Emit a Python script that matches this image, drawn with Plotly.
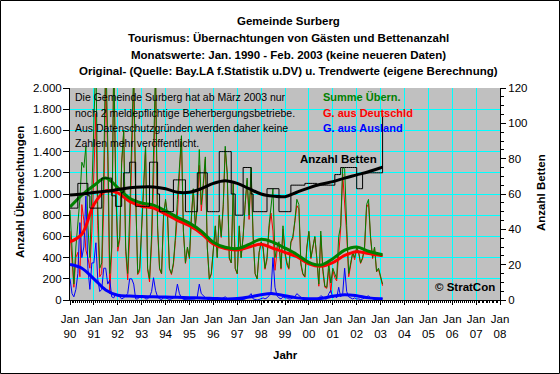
import plotly.graph_objects as go
import pandas as pd

# ---------------- data ----------------
months = pd.date_range("1990-01-01", periods=158, freq="MS")

summe = [
    850, 400, 150, 500, 700, 950, 1300, 1250, 1450, 700, 400, 1000,      # 1990
    1500, 2300, 900, 300, 350, 1200, 2400, 1500, 250, 500, 2300, 1100,   # 1991
    500, 600, 1300, 1600, 500, 250, 800, 1500, 2200, 1000, 250, 300,     # 1992
    700, 1100, 1450, 300, 200, 600, 1300, 2200, 700, 300, 250, 800,      # 1993
    950, 800, 300, 250, 350, 600, 950, 1250, 1550, 650, 350, 500,        # 1994
    400, 800, 1050, 700, 900, 1420, 900, 1100, 1350, 500, 200, 250,      # 1995
    500, 700, 400, 800, 600, 900, 1450, 1200, 400, 350, 1100, 300,       # 1996
    250, 700, 400, 600, 900, 1150, 800, 1250, 600, 250, 200, 450,        # 1997
    550, 500, 300, 400, 700, 900, 1050, 400, 500, 550, 300, 700,         # 1998
    450, 350, 300, 550, 600, 750, 950, 900, 350, 250, 220, 500,          # 1999
    650, 400, 500, 600, 400, 150, 650, 300, 130, 120, 350, 160,          # 2000
    300, 250, 200, 600, 700, 1250, 1240, 700, 250, 350, 450, 400,        # 2001
    500, 450, 350, 400, 500, 900, 950, 600, 400, 500, 270, 300,          # 2002
    220, 150,                                                            # 2003
]
deutsch = [
    650, 340, 120, 400, 450, 220, 900, 750, 470, 400, 300, 650,
    1150, 1760, 700, 220, 250, 900, 2100, 1350, 60, 470, 2280, 1040,
    460, 570, 1290, 1580, 460, 190, 600, 1300, 2050, 990, 240, 270,
    680, 1070, 1440, 290, 170, 520, 1090, 2110, 670, 290, 245, 780,
    930, 790, 295, 240, 330, 560, 800, 1190, 1530, 645, 345, 490,
    390, 790, 1045, 690, 870, 1270, 840, 1060, 1330, 495, 195, 240,
    495, 695, 400, 795, 590, 880, 1420, 1185, 390, 350, 1100, 295,
    245, 695, 400, 595, 890, 1130, 760, 1190, 590, 245, 200, 445,
    540, 480, 290, 380, 660, 820, 650, 280, 460, 530, 290, 670,
    430, 330, 290, 540, 580, 720, 890, 860, 330, 240, 215, 490,
    640, 390, 495, 595, 390, 130, 610, 270, 120, 110, 290, 70,
    280, 210, 180, 480, 670, 1190, 940, 620, 220, 330, 440, 380,
    490, 440, 345, 390, 480, 870, 910, 580, 390, 495, 265, 290,
    210, 135,
]
ausland = [
    200, 60, 30, 100, 250, 730, 400, 500, 980, 300, 100, 350,
    350, 540, 200, 80, 100, 300, 300, 150, 190, 30, 20, 60,
    40, 30, 10, 20, 40, 60, 200, 200, 150, 10, 10, 30,
    20, 30, 10, 10, 30, 80, 210, 90, 30, 10, 5, 20,
    20, 10, 5, 10, 20, 40, 150, 60, 20, 5, 5, 10,
    10, 10, 5, 10, 30, 150, 60, 40, 20, 5, 5, 10,
    5, 5, 0, 5, 10, 20, 30, 15, 10, 0, 0, 5,
    5, 5, 0, 5, 10, 20, 40, 60, 10, 5, 0, 5,
    10, 20, 10, 20, 40, 80, 400, 120, 40, 20, 10, 30,
    20, 20, 10, 10, 20, 30, 60, 40, 20, 10, 5, 10,
    10, 10, 5, 5, 10, 20, 40, 30, 10, 10, 60, 90,
    20, 40, 20, 120, 30, 60, 300, 80, 30, 20, 10, 20,
    10, 10, 5, 10, 20, 30, 40, 20, 10, 5, 5, 10,
    10, 15,
]
betten = [
    52, 52, 52, 52, 66, 66, 66, 66, 66, 59, 52, 52,
    52, 52, 52, 52, 69, 69, 69, 69, 69, 59, 59, 53,
    53, 53, 61, 72, 72, 72, 78, 78, 78, 53, 53, 53,
    53, 53, 53, 53, 78, 78, 78, 78, 60, 50, 50, 50,
    50, 50, 50, 50, 68, 68, 68, 68, 68, 68, 50, 50,
    50, 50, 50, 50, 72, 72, 72, 72, 72, 50, 50, 50,
    50, 50, 50, 84, 84, 84, 84, 84, 84, 60, 60, 48,
    48, 48, 48, 75, 75, 75, 75, 60, 50, 50, 50, 50,
    50, 50, 50, 63, 63, 63, 63, 63, 63, 50, 50, 50,
    50, 50, 50, 65, 65, 65, 65, 65, 65, 65, 66, 66,
    66, 66, 66, 66, 65, 65, 65, 65, 65, 65, 65, 65,
    65, 71, 71, 71, 75, 75, 75, 75, 75, 75, 75, 75,
    63, 63, 63, 72, 72, 72, 72, 72, 72, 72, 72, 72,
    72, 106,
]

trend_dates = [
    "1990-01-01", "1990-07-01", "1991-01-01", "1991-07-01", "1992-01-01", "1992-07-01",
    "1993-01-01", "1993-07-01", "1994-01-01", "1994-07-01", "1995-01-01", "1995-07-01",
    "1996-01-01", "1996-07-01", "1997-01-01", "1997-07-01", "1998-01-01", "1998-07-01",
    "1999-01-01", "1999-07-01", "2000-01-01", "2000-07-01", "2001-01-01", "2001-07-01",
    "2002-01-01", "2002-07-01", "2003-01-01", "2003-02-01",
]
summe_trend = [877, 990, 1080, 1150, 1060, 960, 915, 895, 840, 780, 725, 650,
               545, 497, 485, 525, 572, 545, 490, 430, 355, 330, 390, 470,
               500, 460, 432, 430]
deutsch_trend = [548, 620, 900, 1030, 1010, 930, 885, 868, 810, 752, 700, 628,
                 528, 485, 472, 500, 525, 488, 450, 408, 342, 318, 352, 420,
                 455, 438, 420, 420]
ausland_trend = [335, 300, 200, 95, 45, 37, 33, 30, 28, 25, 22, 20,
                 15, 10, 13, 28, 50, 60, 40, 20, 12, 15, 35, 50,
                 40, 20, 12, 12]
betten_trend = [59.4, 60.0, 60.8, 61.5, 62.5, 63.5, 64.0, 64.0, 63.0, 61.0, 61.0, 63.0,
                66.0, 67.5, 66.0, 63.0, 60.0, 58.8, 58.5, 61.0, 63.5, 65.5, 67.0, 69.0,
                70.8, 72.6, 74.8, 75.2]

year_ticks = pd.date_range("1990-01-01", "2008-01-01", freq="YS")
tick_text = ["Jan<br>" + d.strftime("%y") for d in year_ticks]

GREEN, RED, BLUE, BLACK = "#008000", "#FF0000", "#0000FF", "#000000"
FONT = "Liberation Sans, Arial, sans-serif"

# ---------------- figure ----------------
fig = go.Figure()
fig.add_trace(go.Scatter(x=months, y=deutsch, mode="lines", line=dict(color=RED, width=1)))
fig.add_trace(go.Scatter(x=months, y=summe, mode="lines", line=dict(color=GREEN, width=1)))
fig.add_trace(go.Scatter(x=months, y=ausland, mode="lines", line=dict(color=BLUE, width=1)))
fig.add_trace(go.Scatter(x=months, y=betten, mode="lines", yaxis="y2",
                         line=dict(color=BLACK, width=1, shape="hv")))
fig.add_trace(go.Scatter(x=trend_dates, y=deutsch_trend, mode="lines",
                         line=dict(color=RED, width=3, shape="spline")))
fig.add_trace(go.Scatter(x=trend_dates, y=summe_trend, mode="lines",
                         line=dict(color=GREEN, width=3, shape="spline")))
fig.add_trace(go.Scatter(x=trend_dates, y=ausland_trend, mode="lines",
                         line=dict(color=BLUE, width=3, shape="spline")))
fig.add_trace(go.Scatter(x=trend_dates, y=betten_trend, mode="lines", yaxis="y2",
                         line=dict(color=BLACK, width=3, shape="spline")))

L, R, T, B = 70, 60, 88, 74
PW, PH = 560 - L - R, 374 - T - B


def px(X):
    return (X - L) / PW


def py(Y):
    return (T + PH - Y) / PH


ann = []
titles = [
    ("Gemeinde Surberg", 21),
    ("Tourismus: Übernachtungen von Gästen und Bettenanzahl", 38),
    ("Monatswerte: Jan. 1990 - Feb. 2003 (keine neueren Daten)", 55),
    ("Original- (Quelle: Bay.LA f.Statistik u.DV) u. Trendwerte (eigene Berechnung)", 71),
]
for t, Y in titles:
    ann.append(dict(text="<b>%s</b>" % t, x=px(288), y=py(Y), xref="paper", yref="paper",
                    xanchor="center", yanchor="middle", showarrow=False,
                    font=dict(family=FONT, size=11.5, color=BLACK)))

notes = [
    ("Die Gemeinde Surberg hat ab März 2003 nur", 97),
    ("noch 2 meldepflichtige Beherbergungsbetriebe.", 113),
    ("Aus Datenschutzgründen werden daher keine", 128),
    ("Zahlen mehr veröffentlicht.", 143),
]
for t, Y in notes:
    ann.append(dict(text=t, x=px(73), y=py(Y), xref="paper", yref="paper",
                    xanchor="left", yanchor="middle", showarrow=False,
                    font=dict(family=FONT, size=10.5, color=BLACK)))

legend_items = [("Summe Übern.", GREEN, 97), ("G. aus Deutschld", RED, 113), ("G. aus Ausland", BLUE, 128)]
for t, c, Y in legend_items:
    ann.append(dict(text="<b>%s</b>" % t, x=px(321), y=py(Y), xref="paper", yref="paper",
                    xanchor="left", yanchor="middle", showarrow=False,
                    font=dict(family=FONT, size=11, color=c)))

ann.append(dict(text="<b>Anzahl Betten</b>", x=px(338), y=py(159), xref="paper", yref="paper",
                xanchor="center", yanchor="middle", showarrow=False,
                font=dict(family=FONT, size=11.5, color=BLACK)))
ann.append(dict(text="<b>© StratCon</b>", x=px(497), y=py(287), xref="paper", yref="paper",
                xanchor="right", yanchor="middle", showarrow=False,
                font=dict(family=FONT, size=11.5, color=BLACK)))
ann.append(dict(text="<b>Jahr</b>", x=px(285), y=py(355), xref="paper", yref="paper",
                xanchor="center", yanchor="middle", showarrow=False,
                font=dict(family=FONT, size=11.5, color=BLACK)))
ann.append(dict(text="<b>Anzahl Übernachtungen</b>", x=px(20), y=py(192), xref="paper", yref="paper",
                xanchor="center", yanchor="middle", showarrow=False, textangle=-90,
                font=dict(family=FONT, size=11.5, color=BLACK)))
ann.append(dict(text="<b>Anzahl Betten</b>", x=px(541), y=py(193), xref="paper", yref="paper",
                xanchor="center", yanchor="middle", showarrow=False, textangle=-90,
                font=dict(family=FONT, size=11.5, color=BLACK)))

fig.update_layout(
    width=560, height=374,
    margin=dict(l=L, r=R, t=T, b=B, pad=0),
    paper_bgcolor="white", plot_bgcolor="#C0C0C0",
    showlegend=False,
    separators=",.",
    font=dict(family=FONT, size=11, color=BLACK),
    annotations=ann,
    xaxis=dict(type="date", range=["1990-01-01", "2008-01-01"],
               tickvals=list(year_ticks), ticktext=tick_text,
               showgrid=True, gridcolor="#00FFFF", gridwidth=1,
               showline=True, linecolor=BLACK, linewidth=1,
               ticks="outside", ticklen=4, tickcolor=BLACK, ticklabelstandoff=4,
               minor=dict(dtick="M1", tick0="1990-01-01", ticks="outside", ticklen=2,
                          tickcolor=BLACK, showgrid=False),
               zeroline=False, tickfont=dict(size=11.5)),
    yaxis=dict(range=[0, 2000], dtick=200, tickformat=",.0f",
               showgrid=True, gridcolor="#00FFFF", gridwidth=1,
               showline=True, linecolor=BLACK, linewidth=1,
               ticks="outside", ticklen=6, tickcolor=BLACK, ticklabelstandoff=-1,
               zeroline=False, tickfont=dict(size=11.5)),
    yaxis2=dict(range=[0, 120], dtick=20, overlaying="y", side="right",
                showgrid=False, showline=True, linecolor=BLACK, linewidth=1,
                ticks="outside", ticklen=5, tickcolor=BLACK,
                minor=dict(dtick=5, ticks="outside", ticklen=3, tickcolor=BLACK),
                zeroline=False, tickfont=dict(size=11.5)),
    shapes=[dict(type="rect", xref="paper", yref="paper",
                 x0=px(0.5), x1=px(559.5), y0=py(373.5), y1=py(0.5),
                 line=dict(color=BLACK, width=1), fillcolor="rgba(0,0,0,0)", layer="above")],
)

fig.write_html("out.html", config={"displayModeBar": False},
               post_script="document.body.style.margin='0';document.body.style.overflow='hidden';")
